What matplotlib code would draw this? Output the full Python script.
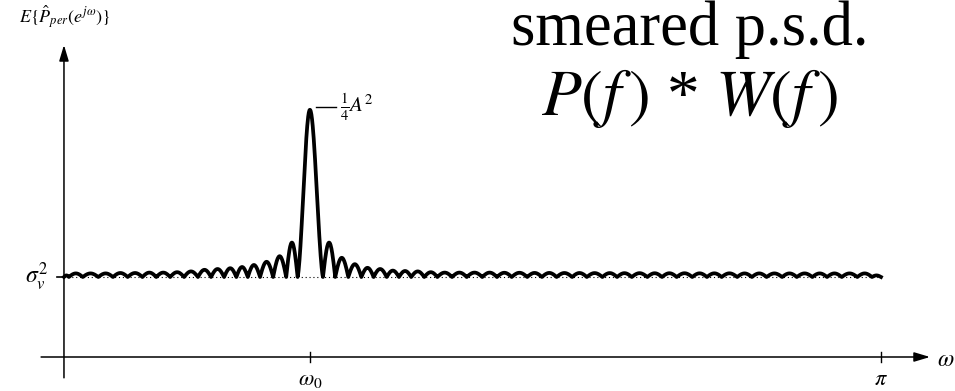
import numpy as np
import matplotlib
matplotlib.use("Agg")
import matplotlib.pyplot as plt

plt.rcParams["font.family"] = ["Liberation Serif", "DejaVu Serif"]
plt.rcParams["mathtext.fontset"] = "stix"

# frequency axis in percent of pi, level axis in units of sigma_v^2
omega0 = 30.1
sigma2 = 1.0

# lobe edges (zeros of the ripple)
nulls_left = [0, 0.6, 2.3, 4.2, 6.0, 7.8, 9.6, 11.3, 13.0, 14.7, 16.4, 18.0,
              19.6, 21.1, 22.5, 24.0, 25.6, 27.2, 28.6]
nulls_right = [31.7, 33.2, 34.8, 36.4, 37.9, 39.5, 41.0, 42.5, 44.1, 45.7,
               47.5, 49.3, 51.2, 53.0, 54.8, 56.7, 58.5, 60.3, 62.2, 64.0,
               65.9, 67.7, 69.5, 71.4, 73.2, 75.0, 76.9, 78.7, 80.5, 82.4,
               84.2, 86.0, 87.9, 89.7, 91.6, 93.4, 95.2, 97.1, 98.9, 100]

# lobe heights above sigma_v^2
heights_left = [0.02, 0.045, 0.045, 0.045, 0.05, 0.05, 0.055, 0.055, 0.06,
                0.07, 0.09, 0.10, 0.11, 0.125, 0.15, 0.19, 0.26, 0.43]
main_height = 2.09
heights_right = [0.43, 0.24, 0.16, 0.115, 0.10, 0.08, 0.075, 0.07, 0.06,
                 0.055, 0.055, 0.055, 0.055, 0.053, 0.053, 0.051, 0.051, 0.05, 0.05,
                 0.049, 0.049, 0.048, 0.048, 0.047, 0.047, 0.047, 0.046, 0.046, 0.046,
                 0.045, 0.045, 0.045, 0.045, 0.045, 0.045, 0.045, 0.045, 0.045, 0.02]

fig = plt.figure(figsize=(9.55, 3.91), dpi=100)
ax = fig.add_axes([0, 0, 1, 1])
ax.set_xlim(-7.83, 109.06)
ax.set_ylim(-0.425, 4.4625)
ax.axis("off")

# build the smeared spectrum lobe by lobe
xs, ys = [], []
t = np.linspace(0, 1, 30)
for a, b, h in zip(nulls_left[:-1], nulls_left[1:], heights_left):
    xs.append(a + (b - a) * t)
    ys.append(sigma2 + h * np.sin(np.pi * t))
a, b = nulls_left[-1], nulls_right[0]
u = np.linspace(-1, 1, 80)
xs.append(omega0 + np.where(u < 0, (omega0 - a) * u, (b - omega0) * u))
ys.append(sigma2 + main_height * np.abs(np.sinc(u)) ** 1.3)
for a, b, h in zip(nulls_right[:-1], nulls_right[1:], heights_right):
    xs.append(a + (b - a) * t)
    ys.append(sigma2 + h * np.sin(np.pi * t))
ax.plot(np.concatenate(xs), np.concatenate(ys), color="black", lw=2.7,
        solid_joinstyle="round")

# noise floor
ax.plot([0, 100], [sigma2, sigma2], color="black", lw=0.8, ls=(0, (1, 2.5)))

# axes with arrows
arrow = dict(arrowstyle="-|>,head_length=0.6,head_width=0.18", lw=1.1,
             color="black", mutation_scale=16, shrinkA=0, shrinkB=0)
ax.annotate("", xy=(106.0, 0), xytext=(-2.8, 0), arrowprops=arrow)
ax.annotate("", xy=(0, 3.9), xytext=(0, -0.26), arrowprops=arrow)

# ticks
ax.plot([omega0, omega0], [-0.06, 0.06], color="black", lw=1)
ax.plot([100, 100], [-0.06, 0.06], color="black", lw=1)
ax.plot([-0.86, 0], [sigma2, sigma2], color="black", lw=1.2)

ax.text(omega0, -0.29, r"$\omega_0$", ha="center", va="center", fontsize=16)
ax.text(100, -0.29, r"$\pi$", ha="center", va="center", fontsize=16)
ax.text(107.9, -0.04, r"$\omega$", ha="center", va="center", fontsize=17)
ax.text(-3.3, 1.0, r"$\sigma_v^2$", ha="center", va="center", fontsize=17)
ax.text(0.1, 4.25, r"$E\{\hat{P}_{per}(e^{j\omega})\}$", ha="center",
        va="center", fontsize=13)

# peak label
ax.plot([30.8, 33.3], [3.125, 3.125], color="black", lw=1)
ax.text(33.8, 3.12, r"$\frac{1}{4}A^2$", ha="left", va="center", fontsize=15)

# title text
ax.text(76.6, 3.9, "smeared p.s.d.", ha="center", va="baseline", fontsize=45)
ax.text(76.6, 3.02, r"$P(f\,)$ * $W(f\,)$", ha="center", va="baseline",
        fontsize=47)

fig.savefig("out.png", dpi=100)
